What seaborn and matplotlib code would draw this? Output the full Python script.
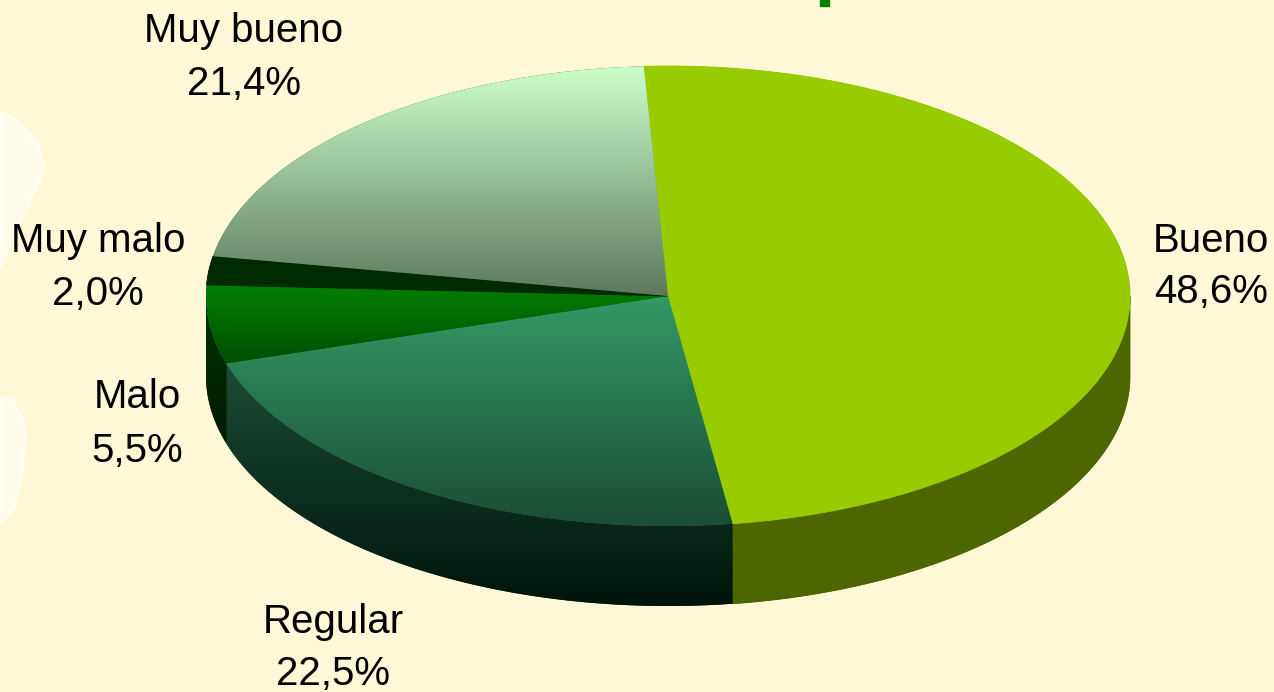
import numpy as np
import matplotlib
matplotlib.use("Agg")
import matplotlib.pyplot as plt
from matplotlib.patches import Polygon, Rectangle
import seaborn as sns

# ---- data ----
categories = ["Bueno", "Regular", "Malo", "Muy malo", "Muy bueno"]
values = [48.6, 22.5, 5.5, 2.0, 21.4]
value_labels = ["48,6%", "22,5%", "5,5%", "2,0%", "21,4%"]

# ---- styles ----
top_colors = [("#99CC00", "#99CC00"), ("#339966", "#1A4D35"), ("#008000", "#004F00"),
              ("#002A00", "#002A00"), ("#CCFFCC", "#5E785E")]
side_colors = [("#4D6600", "#4D6600"), ("#1C4D37", "#00140C"), ("#003300", "#001A00"),
               ("#002200", "#002200"), ("#5E785E", "#3A4A3A")]
# label layout: (center x, baseline of name, baseline of value)
label_layout = [(1211, 252, 303), (333, 633, 685), (137, 408, 462), (98, 252, 305), (244, 42, 95)]

sns.set_theme(style="white")
plt.rcParams['font.family'] = ['Liberation Sans', 'DejaVu Sans']

W, H = 1274, 692
bg = "#FFF8D6"
fig = plt.figure(figsize=(W / 100, H / 100), dpi=100)
ax = fig.add_axes([0, 0, 1, 1])
fig.patch.set_facecolor(bg)
ax.set_facecolor(bg)

# decorative faint background shapes
for shape in ([(0, 113), (13, 117), (38, 143), (45, 168), (28, 207), (13, 237), (0, 267)],
              [(0, 397), (12, 400), (23, 420), (26, 430), (23, 470), (15, 507), (7, 517), (0, 523)]):
    ax.add_patch(Polygon(shape, closed=True, facecolor="#FFFBEA", edgecolor="white", lw=1, zorder=0))
ax.add_patch(Rectangle((820, 0), 9, 6, color="#008000", zorder=0))

# pie geometry (pixel space)
cx, cy, a, b, depth = 668, 296, 462, 230, 80
start = 93.0


def arc(t1, t2, dz=0.0, n=200):
    t = np.radians(np.linspace(t1, t2, n))
    return np.column_stack([cx + a * np.cos(t), cy - b * np.sin(t) + dz])


def fill(verts, c_top, c_bot, z):
    poly = Polygon(verts, closed=True, facecolor='none', edgecolor='none', zorder=z)
    ax.add_patch(poly)
    if c_top == c_bot:
        poly.set_facecolor(c_top)
        poly.set_edgecolor(c_top)
        poly.set_linewidth(0.6)
        return
    x0, x1 = verts[:, 0].min(), verts[:, 0].max()
    y0, y1 = verts[:, 1].min(), verts[:, 1].max()
    cmap = sns.blend_palette([c_top, c_bot], as_cmap=True)
    grad = np.linspace(0, 1, 256)[:, None]
    im = ax.imshow(grad, extent=[x0, x1, y1, y0], cmap=cmap, aspect='auto',
                   origin='upper', zorder=z, interpolation='bilinear')
    im.set_clip_path(poly)


# underlay to hide seams
under = np.vstack([arc(0, 180), arc(180, 360, depth)])
ax.add_patch(Polygon(np.vstack([arc(180, 360, 0), arc(360, 180, depth)]), closed=True,
                     facecolor="#0A2A10", edgecolor='none', zorder=1))
ax.add_patch(Polygon(arc(0, 360), closed=True, facecolor="#2E5A2E", edgecolor='none', zorder=1))

cum = np.cumsum([0] + values[:-1])
for i, v in enumerate(values):
    th1 = start - cum[i] * 3.6
    th2 = th1 - v * 3.6
    # visible outer side (lower half of ellipse)
    for k in (-360, 0, 360):
        lo, hi = max(th2, 180 + k), min(th1, 360 + k)
        if hi > lo:
            side = np.vstack([arc(lo, hi), arc(hi, lo, depth)])
            fill(side, side_colors[i][0], side_colors[i][1], 2)
    top = np.vstack([[cx, cy], arc(th1, th2)])
    fill(top, top_colors[i][0], top_colors[i][1], 3)

for i, (x, yb1, yb2) in enumerate(label_layout):
    ax.text(x, yb1, categories[i], ha='center', va='baseline', fontsize=29, color='black', zorder=5)
    ax.text(x, yb2, value_labels[i], ha='center', va='baseline', fontsize=29, color='black', zorder=5)

ax.set_xlim(0, W)
ax.set_ylim(H, 0)
ax.axis('off')
fig.savefig("out.png", dpi=100, facecolor=bg)
